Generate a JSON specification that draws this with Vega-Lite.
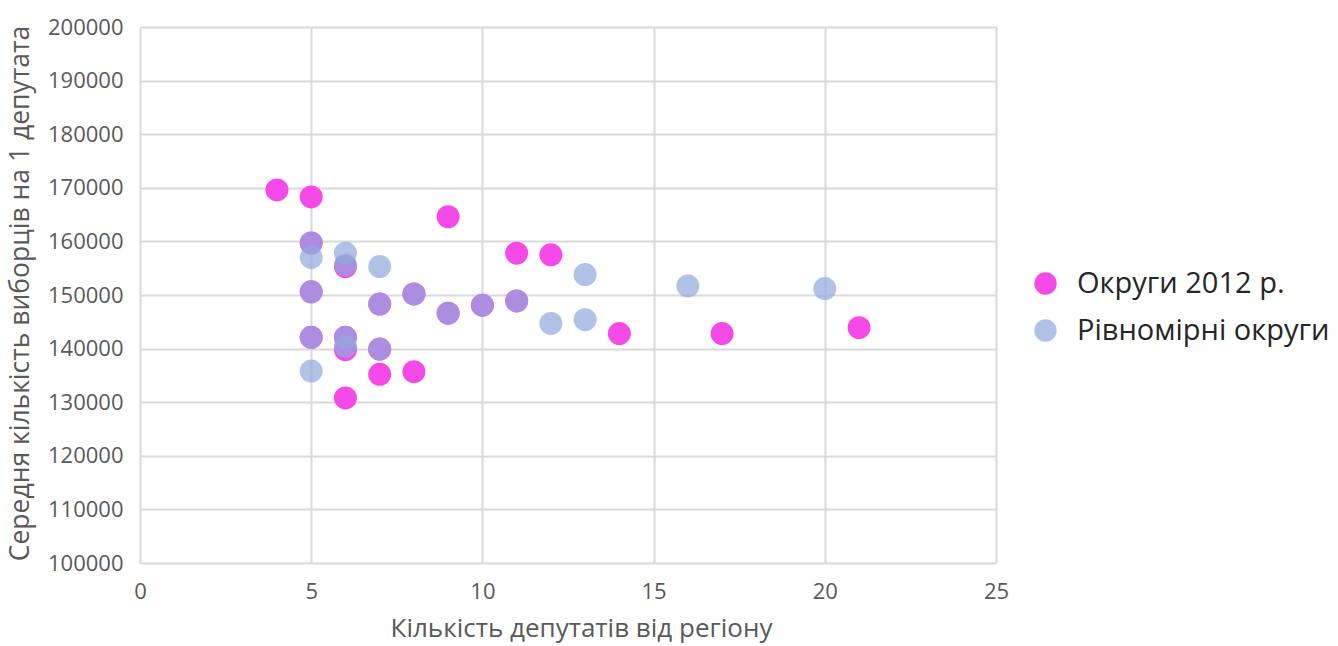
{
  "$schema": "https://vega.github.io/schema/vega-lite/v6.json",
  "autosize": "none",
  "padding": {"left": 140, "top": 27, "right": 342, "bottom": 83},
  "width": 856,
  "height": 536,
  "background": "white",
  "config": {
    "font": "Open Sans",
    "view": {"stroke": null},
    "axis": {
      "grid": true,
      "gridColor": "#d9d9d9",
      "gridWidth": 2,
      "domain": false,
      "ticks": false,
      "labelColor": "#595959",
      "titleColor": "#595959",
      "titleFontWeight": "normal",
      "labelFont": "Open Sans",
      "titleFont": "Open Sans",
      "labelOverlap": false,
      "labelFlush": false
    }
  },
  "data": {
    "values": [
      {"series": "Округи 2012 р.", "x": 4, "y": 169600},
      {"series": "Округи 2012 р.", "x": 5, "y": 168300},
      {"series": "Округи 2012 р.", "x": 9, "y": 164600},
      {"series": "Округи 2012 р.", "x": 11, "y": 157800},
      {"series": "Округи 2012 р.", "x": 12, "y": 157500},
      {"series": "Округи 2012 р.", "x": 14, "y": 142800},
      {"series": "Округи 2012 р.", "x": 17, "y": 142800},
      {"series": "Округи 2012 р.", "x": 21, "y": 143900},
      {"series": "Округи 2012 р.", "x": 6, "y": 130800},
      {"series": "Округи 2012 р.", "x": 7, "y": 135200},
      {"series": "Округи 2012 р.", "x": 8, "y": 135700},
      {"series": "Округи 2012 р.", "x": 5, "y": 159700},
      {"series": "Округи 2012 р.", "x": 6, "y": 155300},
      {"series": "Округи 2012 р.", "x": 5, "y": 150600},
      {"series": "Округи 2012 р.", "x": 7, "y": 148300},
      {"series": "Округи 2012 р.", "x": 8, "y": 150200},
      {"series": "Округи 2012 р.", "x": 9, "y": 146600},
      {"series": "Округи 2012 р.", "x": 10, "y": 148100},
      {"series": "Округи 2012 р.", "x": 11, "y": 148900},
      {"series": "Округи 2012 р.", "x": 5, "y": 142100},
      {"series": "Округи 2012 р.", "x": 6, "y": 142100},
      {"series": "Округи 2012 р.", "x": 6, "y": 139800},
      {"series": "Округи 2012 р.", "x": 7, "y": 139900},
      {"series": "Рівномірні округи", "x": 5, "y": 159700},
      {"series": "Рівномірні округи", "x": 5, "y": 157000},
      {"series": "Рівномірні округи", "x": 6, "y": 157800},
      {"series": "Рівномірні округи", "x": 6, "y": 155600},
      {"series": "Рівномірні округи", "x": 7, "y": 155300},
      {"series": "Рівномірні округи", "x": 13, "y": 153800},
      {"series": "Рівномірні округи", "x": 16, "y": 151700},
      {"series": "Рівномірні округи", "x": 20, "y": 151200},
      {"series": "Рівномірні округи", "x": 5, "y": 150600},
      {"series": "Рівномірні округи", "x": 7, "y": 148300},
      {"series": "Рівномірні округи", "x": 8, "y": 150200},
      {"series": "Рівномірні округи", "x": 9, "y": 146600},
      {"series": "Рівномірні округи", "x": 10, "y": 148100},
      {"series": "Рівномірні округи", "x": 11, "y": 148900},
      {"series": "Рівномірні округи", "x": 12, "y": 144700},
      {"series": "Рівномірні округи", "x": 13, "y": 145400},
      {"series": "Рівномірні округи", "x": 5, "y": 142100},
      {"series": "Рівномірні округи", "x": 6, "y": 142100},
      {"series": "Рівномірні округи", "x": 6, "y": 140400},
      {"series": "Рівномірні округи", "x": 7, "y": 139900},
      {"series": "Рівномірні округи", "x": 5, "y": 135800}
    ]
  },
  "mark": {"type": "circle", "size": 530, "opacity": 1},
  "encoding": {
    "x": {
      "field": "x",
      "type": "quantitative",
      "scale": {"domain": [0, 25], "nice": false},
      "axis": {"values": [0, 5, 10, 15, 20, 25], "title": "Кількість депутатів від регіону", "labelFontSize": 22, "titleFontSize": 26, "labelPadding": 18, "titlePadding": 13, "titleX": 441, "titleAlign": "center"}
    },
    "y": {
      "field": "y",
      "type": "quantitative",
      "scale": {"domain": [100000, 200000], "nice": false, "zero": false},
      "axis": {"values": [100000, 110000, 120000, 130000, 140000, 150000, 160000, 170000, 180000, 190000, 200000], "format": "d", "title": "Середня кількість виборців на 1 депутата", "labelFontSize": 22, "titleFontSize": 26.5, "labelPadding": 17, "titlePadding": 0, "titleX": -106, "titleY": 266, "titleAngle": -90, "titleAlign": "center", "titleBaseline": "bottom"}
    },
    "color": {
      "field": "series",
      "type": "nominal",
      "scale": {"domain": ["Округи 2012 р.", "Рівномірні округи"], "range": ["#f54ae8", "#8faadc"]},
      "legend": {
        "title": null,
        "orient": "none",
        "legendX": 891,
        "legendY": 242,
        "symbolType": "circle",
        "symbolSize": 500,
        "symbolOpacity": 0.85,
        "labelFontSize": 29,
        "labelColor": "#262626",
        "labelFont": "Open Sans",
        "rowPadding": 17,
        "labelOffset": 17,
        "labelLimit": 400
      }
    },
    "opacity": {
      "field": "series",
      "type": "nominal",
      "scale": {"domain": ["Округи 2012 р.", "Рівномірні округи"], "range": [1, 0.7]},
      "legend": null
    },
    "order": {"field": "series", "sort": "ascending"}
  }
}
